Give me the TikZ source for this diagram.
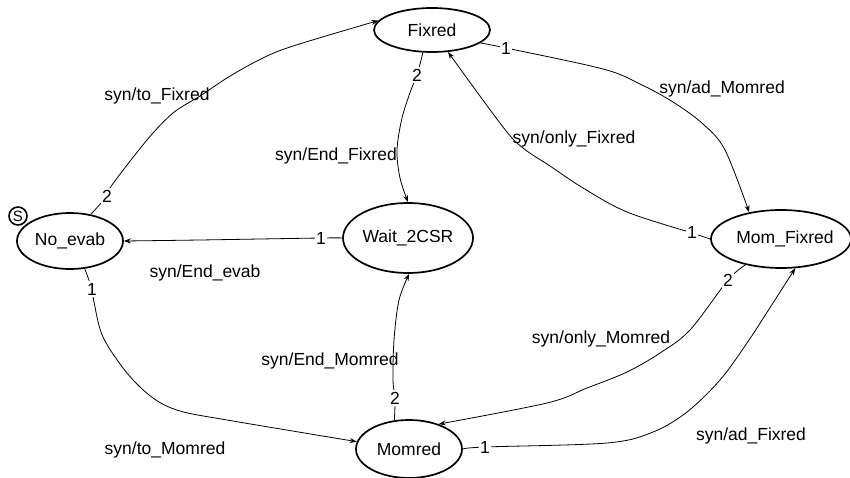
\documentclass[tikz,border=0pt]{standalone}
\usepackage{fontspec}
\setmainfont{Liberation Sans}
\usetikzlibrary{shapes.geometric,arrows.meta}
\begin{document}
\begin{tikzpicture}[x=1pt,y=-1pt,
  state/.style={ellipse,draw,line width=1.7pt,inner sep=0pt,font=\fontsize{17.5}{20}\selectfont},
  tr/.style={line width=0.8pt,-{Stealth[length=7pt,width=5pt]}},
  num/.style={fill=white,inner sep=1.5pt,font=\fontsize{17.5}{20}\selectfont},
  act/.style={inner sep=0pt,font=\fontsize{17.5}{20}\selectfont},
  smoothline/.style={smooth,tension=0.55}]
\useasboundingbox (0,0) rectangle (850,478);
% states
\node[state,minimum width=116pt,minimum height=44pt] (fix) at (432,30) {\makebox[0pt]{Fixred}};
\node[state,minimum width=106pt,minimum height=56pt] (nev) at (70,241) {\makebox[0pt]{No\_evab}};
\node[state,minimum width=130pt,minimum height=70pt] (wait) at (408,238) {\makebox[0pt]{Wait\_2CSR}};
\node[state,minimum width=140pt,minimum height=58pt] (mom) at (781,239) {\makebox[0pt]{\hspace{8pt}Mom\_Fixred}};
\node[state,minimum width=106pt,minimum height=58pt] (momr) at (409,449) {\makebox[0pt]{Momred}};
\node[circle,draw,line width=1.6pt,minimum size=18pt,inner sep=0pt,font=\fontsize{15}{17}\selectfont] (s) at (18,216) {S};
% transitions
\draw[tr] plot[smoothline] coordinates {(nev.52) (107,196) (112,185) (147,140) (173,113) (200,96) (227,78) (257,61) (290,47) (fix.170)};
\node[num] (n1) at (107,196) {2};
\draw[tr] plot[smoothline] coordinates {(fix.248) (417,75) (411,90) (402,118) (397,150) (400,178) (wait.north)};
\node[num] (n2) at (417,75) {2};
\draw[tr] plot[smoothline] coordinates {(fix.-15) (506,48) (603,69) (640,84) (673,102) (703,124) (725,150) (mom.140)};
\node[num] (n3) at (506,48) {1};
\draw[tr] plot[smoothline] coordinates {(mom.180) (692,233) (627,212) (583,188) (550,166) (523,148) (503,127) (fix.-54)};
\node[num] (n4) at (692,232) {1};
\draw[tr] plot[smoothline] coordinates {(wait.west) (321,238) (200,240) (nev.east)};
\node[num] (n5) at (321,238) {1};
\draw[tr] plot[smoothline] coordinates {(nev.-62) (92,289) (94,302) (103,337) (127,373) (153,398) (180,411) (227,420) (momr.172)};
\node[num] (n6) at (92,289) {1};
\draw[tr] plot[smoothline] coordinates {(momr.117) (395,398) (393,380) (394,340) (399,300) (wait.-88)};
\node[num] (n7) at (395,398) {2};
\draw[tr] plot[smoothline] coordinates {(mom.216) (728,280) (690,330) (660,353) (627,372) (587,388) (547,403) (momr.40)};
\node[num] (n8) at (728,280) {2};
\draw[tr] plot[smoothline] coordinates {(momr.east) (485,447) (607,443) (653,432) (687,412) (720,380) (747,343) (773,303) (mom.-64)};
\node[num] (n9) at (485,447) {1};
% actions
\node[act] (a1) at (157,96) {syn/to\_Fixred};
\node[act] (a2) at (336,156) {syn/End\_Fixred};
\node[act] (a3) at (722,89) {syn/ad\_Momred};
\node[act] (a4) at (574,139) {syn/only\_Fixred};
\node[act] (a5) at (205,273) {syn/End\_evab};
\node[act] (a6) at (330,361) {syn/End\_Momred};
\node[act] (a7) at (165,450) {syn/to\_Momred};
\node[act] (a8) at (601,339) {syn/only\_Momred};
\node[act] (a9) at (751,436) {syn/ad\_Fixred};
\end{tikzpicture}
\end{document}
